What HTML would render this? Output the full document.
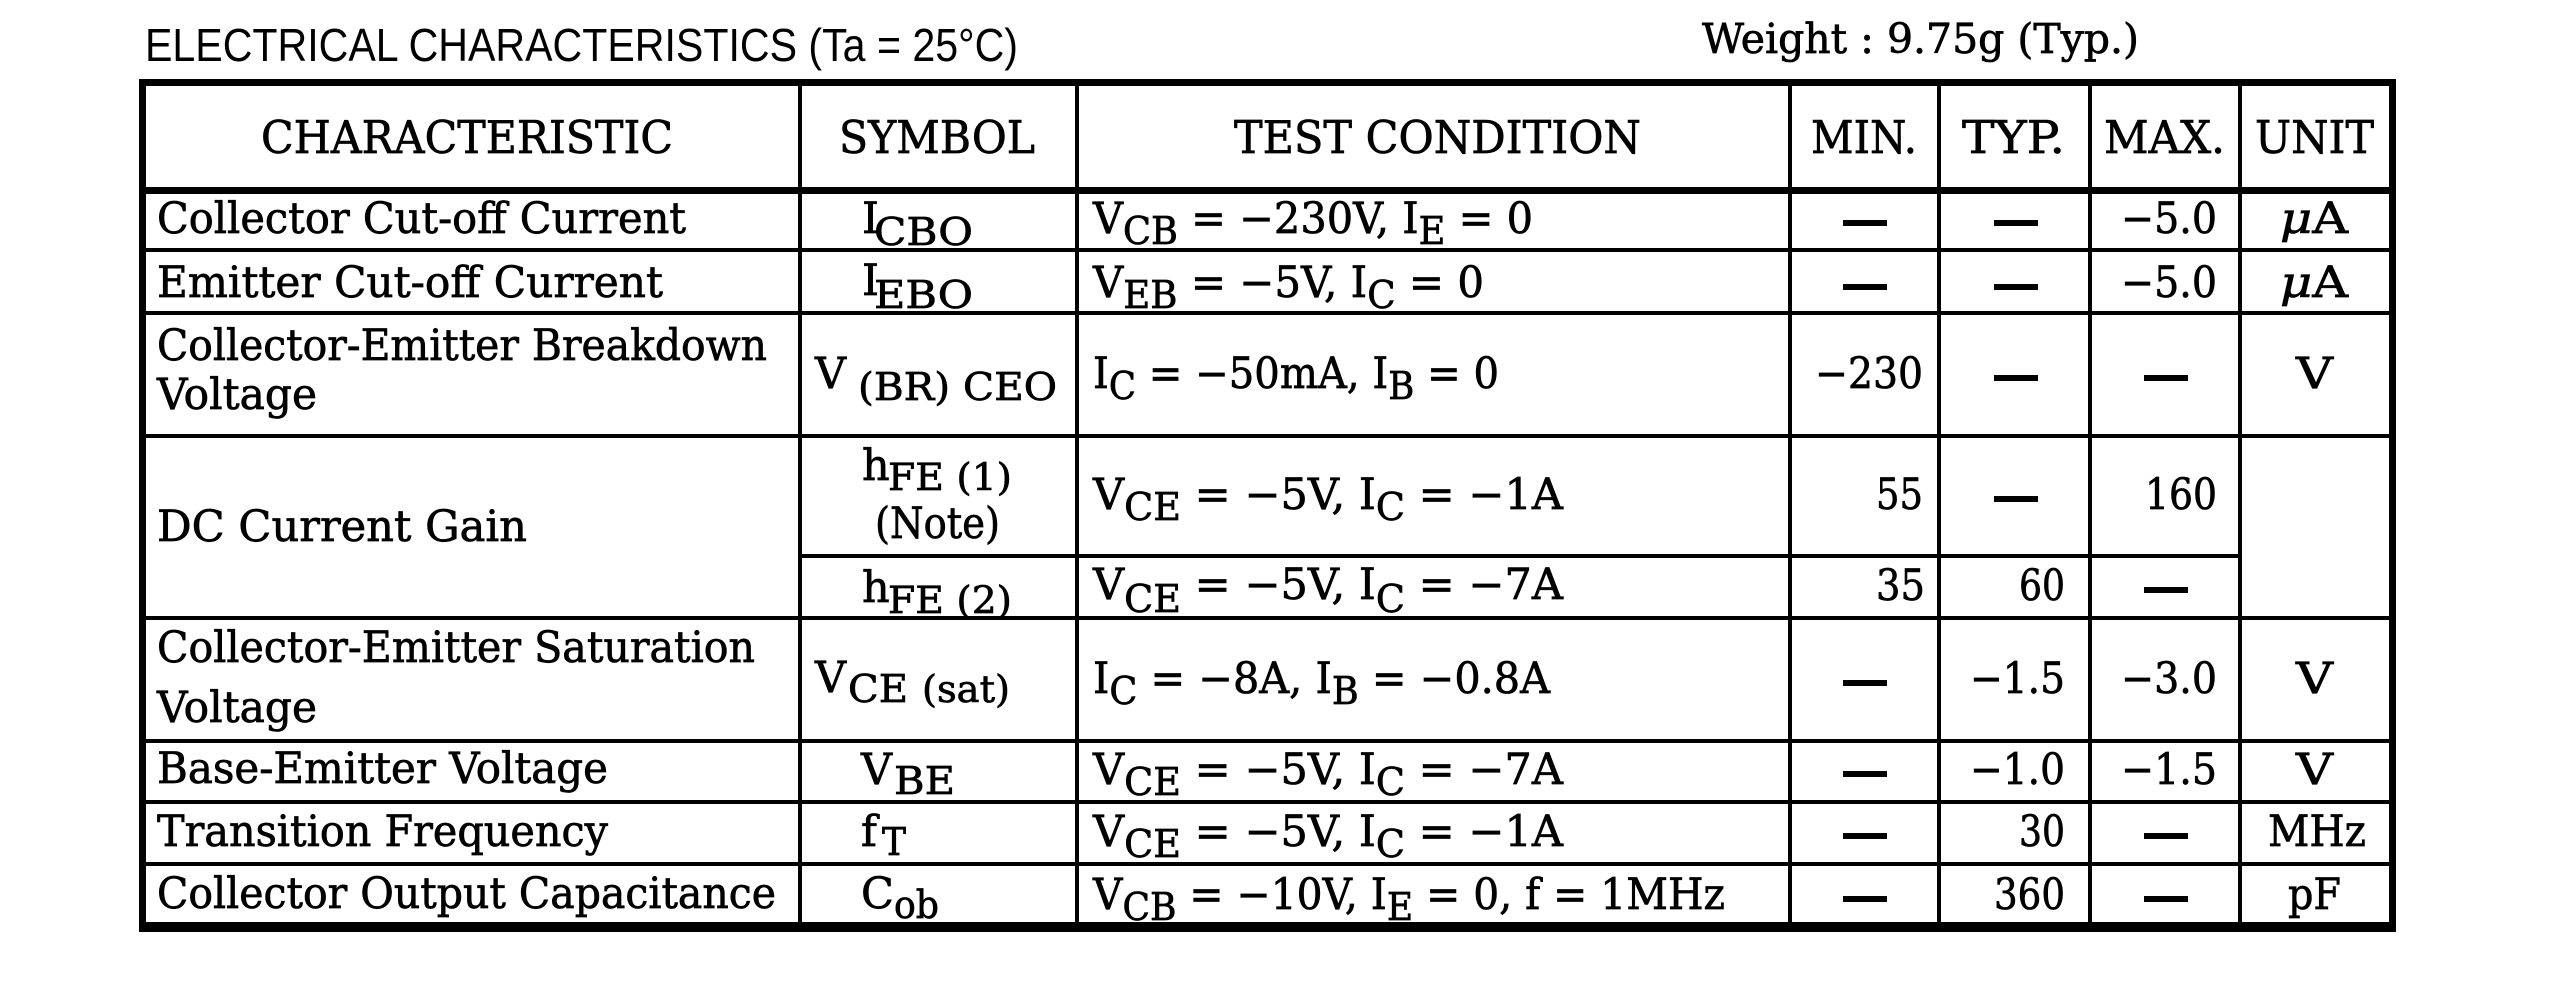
<!DOCTYPE html>
<html>
<head>
<meta charset="utf-8">
<style>
  html,body{margin:0;padding:0;background:#fff;}
  body{width:2560px;height:995px;overflow:hidden;}
  svg{display:block;}
  .s{font-family:"DejaVu Serif","Liberation Serif",serif;fill:#000;stroke:#000;stroke-width:0.7px;}
</style>
</head>
<body>
<svg width="2560" height="995" viewBox="0 0 2560 995" xmlns="http://www.w3.org/2000/svg">
  <rect x="0" y="0" width="2560" height="995" fill="#fff"/>

  <!-- Title -->
  <text x="145" y="61" font-family="Liberation Sans, sans-serif" font-size="46" fill="#000" textLength="873" lengthAdjust="spacingAndGlyphs">ELECTRICAL CHARACTERISTICS (Ta = 25°C)</text>
  <text class="s" x="1702" y="53" font-size="41" textLength="437" lengthAdjust="spacingAndGlyphs">Weight : 9.75g (Typ.)</text>

  <!-- Outer borders -->
  <rect x="139" y="79" width="2257" height="7" fill="#000"/>
  <rect x="139" y="79" width="7" height="853" fill="#000"/>
  <rect x="2389" y="79" width="7" height="853" fill="#000"/>
  <rect x="139" y="922" width="2257" height="10" fill="#000"/>
  <!-- header bottom -->
  <rect x="139" y="187" width="2257" height="7" fill="#000"/>

  <!-- Row lines -->
  <rect x="139" y="248" width="2257" height="4" fill="#000"/>
  <rect x="139" y="311" width="2257" height="4" fill="#000"/>
  <rect x="139" y="434" width="2257" height="4" fill="#000"/>
  <rect x="798" y="554" width="1444" height="4" fill="#000"/>
  <rect x="139" y="616" width="2257" height="4" fill="#000"/>
  <rect x="139" y="739" width="2257" height="4" fill="#000"/>
  <rect x="139" y="800" width="2257" height="4" fill="#000"/>
  <rect x="139" y="862" width="2257" height="4" fill="#000"/>

  <!-- Vertical lines -->
  <rect x="798" y="79" width="4" height="850" fill="#000"/>
  <rect x="1075" y="79" width="4" height="850" fill="#000"/>
  <rect x="1788" y="79" width="4" height="850" fill="#000"/>
  <rect x="1937" y="79" width="4" height="850" fill="#000"/>
  <rect x="2088" y="79" width="4" height="850" fill="#000"/>
  <rect x="2238" y="79" width="4" height="850" fill="#000"/>

  <!-- Header -->
  <g class="s" font-size="45">
    <text x="261" y="153" textLength="412" lengthAdjust="spacingAndGlyphs">CHARACTERISTIC</text>
    <text x="839" y="153" textLength="196" lengthAdjust="spacingAndGlyphs">SYMBOL</text>
    <text x="1234" y="153" textLength="407" lengthAdjust="spacingAndGlyphs">TEST CONDITION</text>
    <text x="1811" y="153" textLength="106" lengthAdjust="spacingAndGlyphs">MIN.</text>
    <text x="1962" y="153" textLength="103" lengthAdjust="spacingAndGlyphs">TYP.</text>
    <text x="2104" y="153" textLength="121" lengthAdjust="spacingAndGlyphs">MAX.</text>
    <text x="2255" y="153" textLength="119" lengthAdjust="spacingAndGlyphs">UNIT</text>
  </g>

  <!-- Characteristic column -->
  <g class="s" font-size="43">
    <text x="157" y="233" textLength="529" lengthAdjust="spacingAndGlyphs">Collector Cut-off Current</text>
    <text x="157" y="297" textLength="506" lengthAdjust="spacingAndGlyphs">Emitter Cut-off Current</text>
    <text x="157" y="360" textLength="610" lengthAdjust="spacingAndGlyphs">Collector-Emitter Breakdown</text>
    <text x="157" y="409" textLength="160" lengthAdjust="spacingAndGlyphs">Voltage</text>
    <text x="157" y="541" textLength="370" lengthAdjust="spacingAndGlyphs">DC Current Gain</text>
    <text x="157" y="662" textLength="598" lengthAdjust="spacingAndGlyphs">Collector-Emitter Saturation</text>
    <text x="157" y="722" textLength="160" lengthAdjust="spacingAndGlyphs">Voltage</text>
    <text x="157" y="783" textLength="451" lengthAdjust="spacingAndGlyphs">Base-Emitter Voltage</text>
    <text x="157" y="846" textLength="451" lengthAdjust="spacingAndGlyphs">Transition Frequency</text>
    <text x="157" y="908" textLength="619" lengthAdjust="spacingAndGlyphs">Collector Output Capacitance</text>
  </g>

  <!-- Symbol column -->
  <g class="s" font-size="43">
    <text x="862" y="233">I</text>
    <text x="874" y="245" font-size="38" textLength="99" lengthAdjust="spacingAndGlyphs">CBO</text>
    <text x="862" y="295">I</text>
    <text x="874" y="308" font-size="38" textLength="99" lengthAdjust="spacingAndGlyphs">EBO</text>
    <text x="815" y="388">V</text>
    <text x="858" y="400" font-size="38" textLength="199" lengthAdjust="spacingAndGlyphs">(BR) CEO</text>
    <text x="862" y="480">h</text>
    <text x="888" y="490" font-size="37" textLength="124" lengthAdjust="spacingAndGlyphs">FE (1)</text>
    <text x="875" y="538" textLength="125" lengthAdjust="spacingAndGlyphs">(Note)</text>
    <text x="862" y="602">h</text>
    <text x="888" y="613" font-size="37" textLength="124" lengthAdjust="spacingAndGlyphs">FE (2)</text>
    <text x="815" y="692">V</text>
    <text x="848" y="702" font-size="38" textLength="60" lengthAdjust="spacingAndGlyphs">CE</text>
    <text x="922" y="702" font-size="37" textLength="88" lengthAdjust="spacingAndGlyphs">(sat)</text>
    <text x="861" y="784">V</text>
    <text x="894" y="794" font-size="38" textLength="61" lengthAdjust="spacingAndGlyphs">BE</text>
    <text x="861" y="846">f</text>
    <text x="882" y="855" font-size="38" textLength="24" lengthAdjust="spacingAndGlyphs">T</text>
    <text x="861" y="908">C</text>
    <text x="894" y="918" font-size="38" textLength="45" lengthAdjust="spacingAndGlyphs">ob</text>
  </g>

  <!-- Test condition column -->
  <g class="s" font-size="43">
    <text x="1093" y="233" textLength="440" lengthAdjust="spacingAndGlyphs">V<tspan dy="11" font-size="38">CB</tspan><tspan dy="-11"> = −230V, I</tspan><tspan dy="11" font-size="38">E</tspan><tspan dy="-11"> = 0</tspan></text>
    <text x="1093" y="297" textLength="391" lengthAdjust="spacingAndGlyphs">V<tspan dy="11" font-size="38">EB</tspan><tspan dy="-11"> = −5V, I</tspan><tspan dy="11" font-size="38">C</tspan><tspan dy="-11"> = 0</tspan></text>
    <text x="1093" y="388" textLength="406" lengthAdjust="spacingAndGlyphs">I<tspan dy="11" font-size="38">C</tspan><tspan dy="-11"> = −50mA, I</tspan><tspan dy="11" font-size="38">B</tspan><tspan dy="-11"> = 0</tspan></text>
    <text x="1093" y="509" textLength="470" lengthAdjust="spacingAndGlyphs">V<tspan dy="11" font-size="38">CE</tspan><tspan dy="-11"> = −5V, I</tspan><tspan dy="11" font-size="38">C</tspan><tspan dy="-11"> = −1A</tspan></text>
    <text x="1093" y="599" textLength="470" lengthAdjust="spacingAndGlyphs">V<tspan dy="13" font-size="38">CE</tspan><tspan dy="-13"> = −5V, I</tspan><tspan dy="13" font-size="38">C</tspan><tspan dy="-13"> = −7A</tspan></text>
    <text x="1093" y="693" textLength="457" lengthAdjust="spacingAndGlyphs">I<tspan dy="11" font-size="38">C</tspan><tspan dy="-11"> = −8A, I</tspan><tspan dy="11" font-size="38">B</tspan><tspan dy="-11"> = −0.8A</tspan></text>
    <text x="1093" y="784" textLength="470" lengthAdjust="spacingAndGlyphs">V<tspan dy="11" font-size="38">CE</tspan><tspan dy="-11"> = −5V, I</tspan><tspan dy="11" font-size="38">C</tspan><tspan dy="-11"> = −7A</tspan></text>
    <text x="1093" y="846" textLength="470" lengthAdjust="spacingAndGlyphs">V<tspan dy="11" font-size="38">CE</tspan><tspan dy="-11"> = −5V, I</tspan><tspan dy="11" font-size="38">C</tspan><tspan dy="-11"> = −1A</tspan></text>
    <text x="1093" y="909" textLength="632" lengthAdjust="spacingAndGlyphs">V<tspan dy="11" font-size="38">CB</tspan><tspan dy="-11"> = −10V, I</tspan><tspan dy="11" font-size="38">E</tspan><tspan dy="-11"> = 0, f = 1MHz</tspan></text>
  </g>

  <!-- Numbers -->
  <g class="s" font-size="43">
    <text x="2121" y="233" textLength="96" lengthAdjust="spacingAndGlyphs">−5.0</text>
    <text x="2121" y="297" textLength="96" lengthAdjust="spacingAndGlyphs">−5.0</text>
    <text x="1815" y="388" textLength="108" lengthAdjust="spacingAndGlyphs">−230</text>
    <text x="1876" y="509" textLength="47" lengthAdjust="spacingAndGlyphs">55</text>
    <text x="2145" y="509" textLength="72" lengthAdjust="spacingAndGlyphs">160</text>
    <text x="1876" y="600" textLength="49" lengthAdjust="spacingAndGlyphs">35</text>
    <text x="2019" y="600" textLength="46" lengthAdjust="spacingAndGlyphs">60</text>
    <text x="1970" y="693" textLength="95" lengthAdjust="spacingAndGlyphs">−1.5</text>
    <text x="2121" y="693" textLength="96" lengthAdjust="spacingAndGlyphs">−3.0</text>
    <text x="1970" y="784" textLength="95" lengthAdjust="spacingAndGlyphs">−1.0</text>
    <text x="2121" y="784" textLength="96" lengthAdjust="spacingAndGlyphs">−1.5</text>
    <text x="2019" y="846" textLength="46" lengthAdjust="spacingAndGlyphs">30</text>
    <text x="1994" y="909" textLength="71" lengthAdjust="spacingAndGlyphs">360</text>
  </g>

  <!-- Units -->
  <g class="s" font-size="43">
    <text x="2280" y="233" textLength="68" lengthAdjust="spacingAndGlyphs"><tspan font-style="italic">μ</tspan>A</text>
    <text x="2280" y="297" textLength="68" lengthAdjust="spacingAndGlyphs"><tspan font-style="italic">μ</tspan>A</text>
    <text x="2296" y="388" textLength="37" lengthAdjust="spacingAndGlyphs">V</text>
    <text x="2296" y="693" textLength="37" lengthAdjust="spacingAndGlyphs">V</text>
    <text x="2296" y="784" textLength="37" lengthAdjust="spacingAndGlyphs">V</text>
    <text x="2268" y="846" textLength="98" lengthAdjust="spacingAndGlyphs">MHz</text>
    <text x="2288" y="909" textLength="53" lengthAdjust="spacingAndGlyphs">pF</text>
  </g>

  <!-- Dashes -->
  <g fill="#000">
    <rect x="1843" y="220" width="44" height="6"/>
    <rect x="1994" y="220" width="44" height="6"/>
    <rect x="1843" y="284" width="44" height="6"/>
    <rect x="1994" y="284" width="44" height="6"/>
    <rect x="1994" y="375" width="44" height="6"/>
    <rect x="2144" y="375" width="44" height="6"/>
    <rect x="1994" y="496" width="44" height="6"/>
    <rect x="2144" y="587" width="44" height="6"/>
    <rect x="1843" y="680" width="44" height="6"/>
    <rect x="1843" y="771" width="44" height="6"/>
    <rect x="1843" y="833" width="44" height="6"/>
    <rect x="2144" y="833" width="44" height="6"/>
    <rect x="1843" y="896" width="44" height="6"/>
    <rect x="2144" y="896" width="44" height="6"/>
  </g>

  <!-- redraw separator over clipped subscripts -->
  <rect x="798" y="616" width="1598" height="4" fill="#000"/>
</svg>
</body>
</html>
